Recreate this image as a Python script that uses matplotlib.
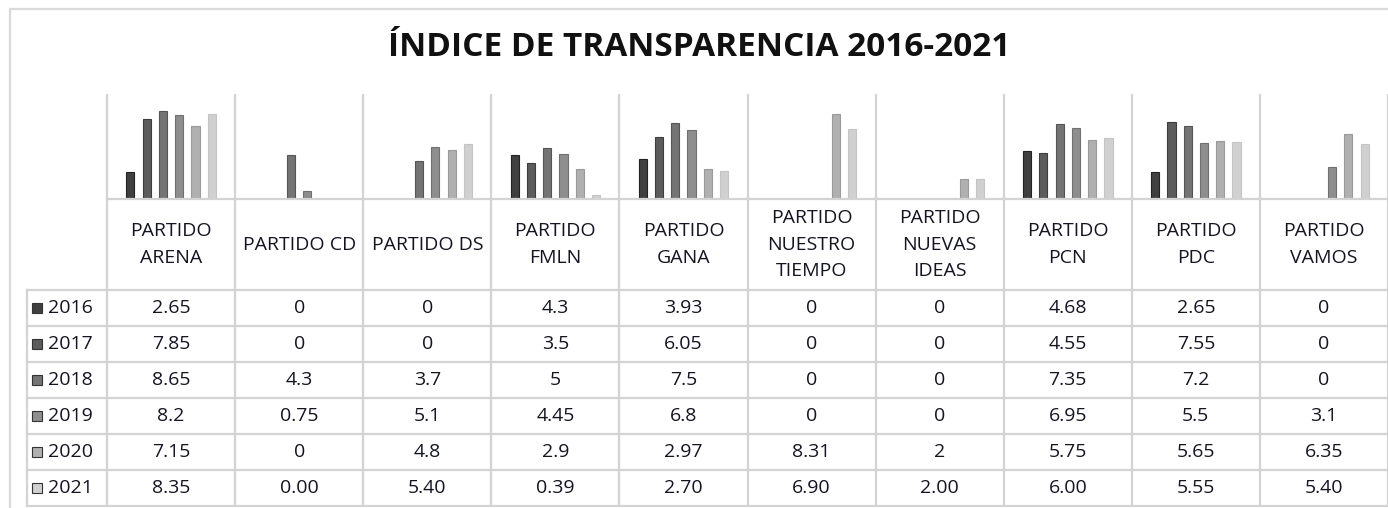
import numpy as np
import matplotlib
matplotlib.use('Agg')
import matplotlib.pyplot as plt
from matplotlib.patches import Rectangle

# --- datos | data ---
partidos = ['PARTIDO\nARENA', 'PARTIDO CD', 'PARTIDO DS', 'PARTIDO\nFMLN', 'PARTIDO\nGANA',
            'PARTIDO\nNUESTRO\nTIEMPO', 'PARTIDO\nNUEVAS\nIDEAS', 'PARTIDO\nPCN',
            'PARTIDO\nPDC', 'PARTIDO\nVAMOS']
anios = ['2016', '2017', '2018', '2019', '2020', '2021']
v2016 = [2.65, 0, 0, 4.3, 3.93, 0, 0, 4.68, 2.65, 0]
v2017 = [7.85, 0, 0, 3.5, 6.05, 0, 0, 4.55, 7.55, 0]
v2018 = [8.65, 4.3, 3.7, 5, 7.5, 0, 0, 7.35, 7.2, 0]
v2019 = [8.2, 0.75, 5.1, 4.45, 6.8, 0, 0, 6.95, 5.5, 3.1]
v2020 = [7.15, 0, 4.8, 2.9, 2.97, 8.31, 2, 5.75, 5.65, 6.35]
v2021 = [8.35, 0.00, 5.40, 0.39, 2.70, 6.90, 2.00, 6.00, 5.55, 5.40]
series = [v2016, v2017, v2018, v2019, v2020, v2021]

colores = ['#404040', '#5c5c5c', '#747474', '#8e8e8e', '#b0b0b0', '#d0d0d0']
bordes = ['#222222', '#3d3d3d', '#555555', '#707070', '#9a9a9a', '#c4c4c4']
gris = '#d3d3d3'
texto = '#141422'

W, H = 1388, 508
def fx(px):
    return px / W
def fy(py):
    return 1 - py / H

fig = plt.figure(figsize=(W / 100, H / 100), dpi=100)
plt.rcParams['font.family'] = ['Open Sans', 'DejaVu Sans']

# marco exterior | outer frame
fig.add_artist(Rectangle((fx(10), fy(H + 5)), 1.2, fy(9) - fy(H + 5), transform=fig.transFigure,
                         fill=False, edgecolor='#dadada', linewidth=1.6))

fig.text(fx(699), fy(47), 'ÍNDICE DE TRANSPARENCIA 2016-2021', ha='center', va='center',
         fontsize=24, fontweight='bold', color='#111111')

n = len(partidos)
x = np.arange(n) + 0.5

# barras | bars
ax = fig.add_axes([fx(107), fy(199), fx(W) - fx(107), fy(95) - fy(199)])
ax.set_xlim(0, n)
ax.set_ylim(0, 10.2)
ax.axis('off')
paso = 0.127
for i, vals in enumerate(series):
    ax.bar(x + (i - 2.5) * paso, vals, width=0.064, color=colores[i],
           edgecolor=bordes[i], linewidth=0.8, zorder=3)
for k in range(n + 1):
    ax.axvline(k, color=gris, linewidth=1.6, clip_on=False)

# tabla | data table
fila = 36.0
cab = 91.0 / fila
ancho_ley = 80 / 128.1
tab = fig.add_axes([fx(27), fy(H), fx(W) - fx(27), fy(199) - fy(H)])
tab.set_xlim(-ancho_ley, n)
tab.set_ylim((H - 199) / fila, 0)
tab.axis('off')

tab.plot([0, n], [0, 0], color=gris, linewidth=1.6, clip_on=False)
for r in range(len(anios) + 1):
    tab.plot([-ancho_ley, n], [cab + r, cab + r], color=gris, linewidth=1.6, clip_on=False)
for k in range(n + 1):
    tab.plot([k, k], [0, cab + len(anios)], color=gris, linewidth=1.6, clip_on=False)
tab.plot([-ancho_ley, -ancho_ley], [cab, cab + len(anios)], color=gris, linewidth=1.6, clip_on=False)

fs = 14
for c, p in enumerate(partidos):
    tab.text(c + 0.5, cab / 2, p, ha='center', va='center', fontsize=fs,
             color=texto, linespacing=1.58)

for i, (yr, vals) in enumerate(zip(anios, series)):
    yc = cab + i + 0.5
    tab.plot([-0.545], [yc], marker='s', markersize=7, color=colores[i],
             markeredgecolor='#333333', markeredgewidth=0.8, clip_on=False)
    tab.text(-0.462, yc, yr, ha='left', va='center', fontsize=fs, color=texto)
    for c, v in enumerate(vals):
        lbl = f'{v:.2f}' if yr == '2021' else f'{v:g}'
        tab.text(c + 0.5, yc, lbl, ha='center', va='center', fontsize=fs, color=texto)

fig.savefig('out.png', dpi=100, facecolor='white')
